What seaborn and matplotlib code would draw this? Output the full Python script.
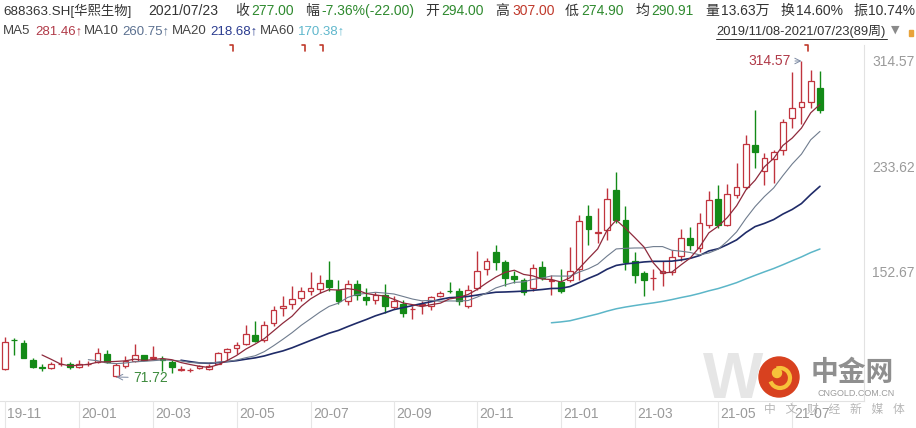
import numpy as np
import pandas as pd
import matplotlib.pyplot as plt
import seaborn as sns
from matplotlib.lines import Line2D
from matplotlib.patches import Circle, Arc, Rectangle

# weekly candles 2019/11/08 - 2021/07/23 (89 weeks)
opens = [77.5, 100.5, 98.0, 85.0, 79.5, 78.7, 81.5, 81.8, 79.5, 81.5,
         83.4, 89.5, 72.5, 80.0, 84.4, 88.5, 86.0, 85.5, 83.6, 77.2,
         77.0, 78.5, 78.0, 82.0, 91.0, 94.1, 97.2, 103.9, 100.5, 113.3,
         125.0, 128.0, 132.5, 138.0, 139.4, 146.0, 138.8, 130.4, 143.2, 133.0,
         130.6, 135.0, 125.5, 128.0, 123.7, 127.0, 126.6, 134.0, 138.0, 137.6,
         126.6, 140.2, 154.6, 167.8, 160.2, 149.6, 146.5, 140.2, 156.3, 145.8,
         144.7, 146.0, 154.6, 195.6, 182.5, 184.9, 215.6, 192.6, 160.6, 151.7,
         147.5, 152.0, 152.5, 164.4, 178.5, 170.9, 188.8, 208.5, 188.8, 211.3,
         218.1, 250.0, 230.2, 239.4, 246.3, 270.6, 279.1, 283.4, 294.0]
highs = [102.3, 101.8, 100.5, 86.5, 81.8, 83.0, 87.0, 83.5, 85.0, 84.0,
         94.1, 92.8, 82.5, 87.7, 97.2, 89.0, 95.4, 87.7, 84.5, 80.0,
         79.0, 81.0, 82.0, 91.0, 94.0, 98.4, 112.0, 115.0, 115.0, 126.6,
         133.8, 141.4, 140.9, 152.4, 149.8, 161.0, 146.5, 146.5, 146.5, 140.2,
         137.0, 143.2, 134.0, 131.2, 126.0, 130.0, 134.0, 137.5, 144.5, 140.2,
         142.7, 168.3, 163.0, 172.9, 162.0, 153.0, 148.0, 158.8, 160.6, 150.4,
         155.0, 171.5, 196.0, 204.0, 201.5, 216.9, 229.6, 202.8, 167.8, 153.4,
         154.7, 160.6, 169.6, 185.7, 186.7, 197.7, 214.8, 219.4, 219.9, 236.1,
         257.8, 277.0, 243.8, 246.3, 270.1, 305.9, 314.57, 307.7, 307.0]
lows = [77.0, 88.9, 86.0, 78.5, 76.7, 78.0, 80.0, 77.5, 79.0, 80.0,
        82.5, 82.5, 71.72, 79.0, 83.5, 84.5, 85.5, 76.2, 74.9, 76.0,
        75.5, 78.0, 77.0, 81.5, 85.0, 89.5, 96.0, 98.5, 99.0, 111.0,
        118.4, 124.0, 130.0, 135.0, 136.0, 137.6, 127.9, 127.3, 131.2, 127.3,
        128.0, 121.1, 124.0, 117.9, 116.3, 120.0, 123.0, 133.0, 136.5, 127.3,
        125.0, 138.5, 150.0, 154.2, 141.4, 144.0, 134.5, 137.6, 146.0, 135.0,
        136.3, 145.0, 146.5, 173.4, 174.5, 177.2, 190.0, 154.2, 144.0, 133.8,
        138.8, 141.4, 150.0, 160.6, 169.6, 168.0, 186.0, 186.0, 187.5, 209.0,
        216.0, 232.2, 219.4, 220.7, 242.4, 262.9, 266.0, 278.3, 274.9]
closes = [98.7, 99.8, 86.5, 79.2, 79.0, 81.8, 82.0, 79.5, 81.8, 82.0,
          90.3, 83.4, 81.0, 84.0, 88.5, 85.1, 87.0, 85.0, 79.5, 77.6,
          77.4, 80.3, 80.5, 90.3, 93.4, 96.7, 104.8, 99.7, 111.5, 123.0,
          126.5, 131.7, 137.6, 140.2, 144.0, 141.0, 129.8, 143.2, 135.0, 130.6,
          135.0, 126.0, 130.4, 121.0, 124.3, 127.5, 133.2, 136.3, 137.5, 129.8,
          138.8, 152.9, 161.0, 160.2, 147.8, 147.0, 136.8, 155.5, 147.8, 146.2,
          137.6, 152.9, 191.8, 185.7, 183.0, 208.4, 192.6, 160.1, 150.4, 146.5,
          148.0, 153.0, 163.6, 178.5, 172.9, 190.1, 207.4, 188.8, 212.3, 218.1,
          250.7, 244.9, 240.4, 244.5, 268.0, 278.8, 283.4, 299.0, 277.0]

# first weekly candle of each labelled month
tick_idx = [0, 8, 16, 25, 33, 42, 51, 60, 68, 77, 85]
tick_labels = ['19-11', '20-01', '20-03', '20-05', '20-07', '20-09',
               '20-11', '21-01', '21-03', '21-05', '21-07']
y_ticks = [314.57, 233.62, 152.67]

RED = '#c0343e'
GREEN = '#138a17'
MA_COLORS = {'ma5': '#8e2a3c', 'ma10': '#6f7c8e', 'ma20': '#1f2b68', 'ma60': '#5cb6c8'}
MA_WIDTHS = {'ma5': 0.9, 'ma10': 0.8, 'ma20': 1.2, 'ma60': 1.1}

df = pd.DataFrame({'i': np.arange(len(closes)), 'open': opens, 'high': highs,
                   'low': lows, 'close': closes})
for n in [5, 10, 20, 60]:
    df['ma%d' % n] = df['close'].rolling(n).mean()

sns.set_style("white")
FONTS = ['Liberation Sans', 'Noto Sans CJK SC', 'DejaVu Sans']
plt.rcParams['font.family'] = FONTS

W, H = 916, 428
fig = plt.figure(figsize=(W / 100, H / 100), dpi=100)


def fx(px):
    return px / W


def fy(py):
    return 1 - py / H


# main price panel
ax = fig.add_axes([0, fy(401), fx(864), (401 - 45) / H])
step = 9.261
ax.set_xlim(-5 / step, (864 - 5) / step)
ax.set_ylim(314.57 - 340 * 0.7685, 314.57 + 16 * 0.7685)

up = df['close'] >= df['open']
col = np.where(up, RED, GREEN)
ax.vlines(df['i'], df['low'], df['high'], colors=col, lw=1, zorder=2)
bottom = np.minimum(df['open'], df['close'])
height = np.abs(df['close'] - df['open'])
ax.bar(df['i'], height, bottom=bottom, width=0.62, color=np.where(up, 'white', GREEN),
       edgecolor=col, linewidth=0.9, zorder=3)

for key in ['ma60', 'ma20', 'ma10', 'ma5']:
    sns.lineplot(data=df, x='i', y=key, ax=ax, color=MA_COLORS[key],
                 lw=MA_WIDTHS[key], zorder=4)

ax.set_xlabel('')
ax.set_ylabel('')
ax.set_xticks([])
ax.yaxis.tick_right()
ax.set_yticks(y_ticks)
ax.set_yticklabels(['%.2f' % v for v in y_ticks])
ax.tick_params(axis='y', length=0, pad=6, labelsize=10, labelcolor='#9a9a9a')
for s in ['top', 'left']:
    ax.spines[s].set_visible(False)
for s in ['right', 'bottom']:
    ax.spines[s].set_color('#e2e2e2')
    ax.spines[s].set_linewidth(0.8)

# high / low markers
hi = int(np.argmax(highs))
lo = int(np.argmin(lows))
ax.annotate('%.2f' % highs[hi], xy=(hi, highs[hi]), xytext=(84.8, highs[hi]),
            ha='right', va='center', fontsize=10, color='#b03a48',
            arrowprops=dict(arrowstyle='->', color='#7d8aa3', lw=0.7, shrinkA=1, shrinkB=0))
ax.annotate('%.2f' % lows[lo], xy=(lo, lows[lo]), xytext=(13.8, lows[lo] - 0.6),
            ha='left', va='center', fontsize=10, color='#3d8b3d',
            arrowprops=dict(arrowstyle='->', color='#7d8aa3', lw=0.7, shrinkA=1, shrinkB=0))

# bottom date band
ax2 = fig.add_axes([0, 0, fx(864), (428 - 401) / H])
ax2.set_xlim(ax.get_xlim())
ax2.set_ylim(0, 1)
ax2.axis('off')
for idx, lab in zip(tick_idx, tick_labels):
    ax2.axvline(idx, color='#e6e6e6', lw=0.8)
    ax2.text(idx + 0.25, 0.52, lab, ha='left', va='center', fontsize=10, color='#9a9a9a')

# header rows
DARK = '#333333'
GT = '#2f8a2f'
RT = '#c0392b'
fig.text(fx(3), fy(11), '688363.SH[华熙生物]', ha='left', va='center', fontsize=9.6, color=DARK)
row1 = [(148, '2021/07/23', DARK), (235, '收', DARK),
        (251, '277.00', GT), (305, '幅', DARK), (321, '-7.36%(-22.00)', GT),
        (425, '开', DARK), (441, '294.00', GT), (495, '高', DARK), (512, '307.00', RT),
        (565, '低', DARK), (581, '274.90', GT), (635, '均', DARK), (651, '290.91', GT),
        (705, '量', DARK), (721, '13.63万', DARK), (780, '换', DARK), (796, '14.60%', DARK),
        (853, '振', DARK), (868, '10.74%', DARK)]
for x, t, c in row1:
    fig.text(fx(x), fy(11), t, ha='left', va='center', fontsize=10, color=c)

row2 = [(3, 'MA5', '#444444'), (35, '281.46↑', '#b03a48'), (84, 'MA10', '#444444'),
        (122, '260.75↑', '#5b7090'), (172, 'MA20', '#444444'), (210, '218.68↑', '#2a3b8f'),
        (260, 'MA60', '#444444'), (298, '170.38↑', '#5fb7cc')]
for x, t, c in row2:
    fig.text(fx(x), fy(31), t, ha='left', va='center', fontsize=9.5, color=c)

fig.text(fx(716), fy(31), '2019/11/08-2021/07/23(89周)', ha='left', va='center',
         fontsize=9.3, color=DARK)
fig.add_artist(Line2D([fx(716), fx(887)], [fy(39), fy(39)], color=DARK, lw=0.7))
fig.text(fx(891), fy(30), '▼', ha='left', va='center', fontsize=8,
         color='#8a8a8a', family=['DejaVu Sans'])
fig.add_artist(Rectangle((fx(909), fy(36)), fx(4), 6 / H, color='#e8a33a'))

# small red event marks along the top
for x in [233, 305, 323, 808]:
    fig.add_artist(Line2D([fx(x - 3), fx(x), fx(x)], [fy(45), fy(45), fy(51)],
                          color=RT, lw=1.2))

# watermark
fig.text(fx(733), fy(381), 'W', ha='center', va='center', fontsize=46,
         fontweight='bold', color='#e6e6e6')
fig.add_artist(Circle((7.79, 0.51), 0.2, transform=fig.dpi_scale_trans, color='#d8411f'))
fig.add_artist(Arc((7.80, 0.50), 0.2, 0.2, theta1=200, theta2=470,
                   transform=fig.dpi_scale_trans, color='#f7c23a', lw=3))
fig.add_artist(Circle((7.77, 0.55), 0.045, transform=fig.dpi_scale_trans, color='#f7c23a'))
fig.text(fx(852), fy(374), '中金网', ha='center', va='center', fontsize=20,
         fontweight='bold', color='#8f8f8f')
fig.text(fx(856), fy(394), 'CNGOLD.COM.CN', ha='center', va='center', fontsize=6.5,
         color='#9c9c9c')
fig.text(fx(764), fy(410), '中   文   财   经   新   媒   体', ha='left', va='center',
         fontsize=8.5, color='#aaaaaa', alpha=0.85)

fig.savefig('out.png', dpi=100)
